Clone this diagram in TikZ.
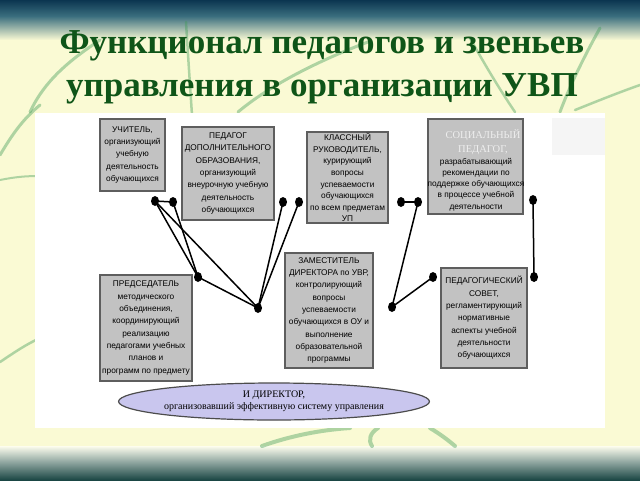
\documentclass[tikz,border=0pt]{standalone}
\usepackage{fontspec}
\setmainfont{Liberation Serif}
\newfontfamily\boxfont{Liberation Sans}
\newfontfamily\headserif{Liberation Serif}
\usetikzlibrary{shapes.geometric}
\definecolor{bg}{HTML}{FAFAD4}
\definecolor{topdark}{HTML}{0B3550}
\definecolor{topmid}{HTML}{3A6E7E}
\definecolor{botmid}{HTML}{8FA6A0}
\definecolor{botdark}{HTML}{1A4644}
\definecolor{leaf}{HTML}{3E9A55}
\definecolor{titlegreen}{HTML}{0F5518}
\definecolor{boxfill}{HTML}{C2C2C2}
\definecolor{boxedge}{HTML}{5E5E5E}
\definecolor{ellfill}{HTML}{C9C6EE}
\definecolor{headwhite}{HTML}{EEEEEE}
\begin{document}
\begin{tikzpicture}[x=1pt,y=-1pt,
  box/.style={draw=boxedge,fill=boxfill,line width=1.3pt,inner sep=0pt,align=center,
    font=\boxfont\fontsize{8.3}{12.3}\selectfont,text=black},
  dotnode/.style={ellipse,fill=black,inner sep=0pt,minimum width=8pt,minimum height=10pt},
  link/.style={line width=1.5pt,black},
  leafstroke/.style={leaf,opacity=0.4,line width=3pt,line cap=round},
  titletext/.style={font=\bfseries\fontsize{35}{40}\selectfont,text=titlegreen,anchor=base}]
\useasboundingbox (0,0) rectangle (640,480);
% background
\fill[bg] (0,0) rectangle (640,480);
\shade[top color=topdark,bottom color=topmid] (0,0) rectangle (640,16);
\shade[top color=topmid,bottom color=bg] (0,16) rectangle (640,40);
\shade[top color=bg!40!white,bottom color=botmid] (0,446) rectangle (640,462);
\shade[top color=botmid,bottom color=botdark] (0,462) rectangle (640,480);
% leaves
\draw[leafstroke] (0,155) .. controls (12,135) and (22,120) .. (40,105);
\draw[leafstroke,line width=2pt] (0,180) .. controls (15,177) and (25,176) .. (40,176);
\draw[leafstroke,line width=2.5pt] (0,362) .. controls (15,352) and (25,345) .. (40,338);
\draw[leafstroke] (30,112) .. controls (45,80) and (70,60) .. (100,40);
\draw[leafstroke,line width=2.5pt] (186,22) .. controls (188,55) and (190,85) .. (192,115);
\draw[leafstroke] (238,112) .. controls (270,85) and (320,60) .. (368,42);
\draw[leafstroke,line width=2.5pt] (470,38) .. controls (485,65) and (500,90) .. (515,112);
\draw[leafstroke] (600,28) .. controls (585,55) and (570,85) .. (560,112);
\draw[leafstroke,line width=2.5pt] (575,110) .. controls (600,100) and (620,92) .. (640,85);
\draw[leafstroke,line width=4pt] (262,446) .. controls (290,436) and (320,430) .. (350,428);
\draw[leafstroke,line width=4pt] (372,446) .. controls (368,440) and (370,433) .. (378,428);
\draw[leafstroke,line width=4pt] (430,428) .. controls (440,434) and (448,440) .. (455,446);
% white panel
\fill[white] (35,113) rectangle (605,428);
\fill[black!4] (552,118) rectangle (605,155);
% title
\node[titletext] (t1) at (322,53) {Функционал педагогов и звеньев};
\node[titletext] (t2) at (322,96) {управления в организации УВП};
% boxes
\node[box,minimum width=65pt,minimum height=72pt] (b1) at (132.5,155)
  {УЧИТЕЛЬ,\\организующий\\учебную\\деятельность\\обучающихся};
\node[box,minimum width=92pt,minimum height=93pt] (b2) at (228,173.5)
  {ПЕДАГОГ\\ДОПОЛНИТЕЛЬНОГО\\ОБРАЗОВАНИЯ,\\организующий\\внеурочную учебную\\деятельность\\обучающихся};
\node[box,minimum width=81pt,minimum height=91pt,font=\boxfont\fontsize{8.3}{11.6}\selectfont] (b3) at (347.5,177.5)
  {КЛАССНЫЙ\\РУКОВОДИТЕЛЬ,\\курирующий\\вопросы\\успеваемости\\обучающихся\\по всем предметам\\УП};
\node[box,minimum width=95pt,minimum height=95pt] (b4) at (475.5,166.5) {};
\node[align=center,inner sep=0pt,font=\headserif\fontsize{10.5}{14}\selectfont,text=headwhite,anchor=north] (b4h) at (483,129)
  {СОЦИАЛЬНЫЙ\\ПЕДАГОГ,};
\node[align=center,inner sep=0pt,font=\boxfont\fontsize{8.3}{11.2}\selectfont,anchor=north] (b4t) at (476,158)
  {разрабатывающий\\рекомендации по\\поддержке обучающихся\\в процессе учебной\\деятельности};
\node[box,minimum width=92pt,minimum height=106pt] (b5) at (146,328)
  {ПРЕДСЕДАТЕЛЬ\\методического\\объединения,\\координирующий\\реализацию\\педагогами учебных\\планов и\\программ по предмету};
\node[box,minimum width=88pt,minimum height=115pt] (b6) at (329,310.5)
  {ЗАМЕСТИТЕЛЬ\\ДИРЕКТОРА по УВР,\\контролирующий\\вопросы\\успеваемости\\обучающихся в ОУ и\\выполнение\\образовательной\\программы};
\node[box,minimum width=86pt,minimum height=100pt] (b7) at (484,318)
  {ПЕДАГОГИЧЕСКИЙ\\СОВЕТ,\\регламентирующий\\нормативные\\аспекты учебной\\деятельности\\обучающихся};
% ellipse
\node[ellipse,draw=black!70,line width=1.2pt,fill=ellfill,minimum width=268pt,minimum height=37pt,inner sep=0pt,
  align=center,font=\fontsize{10}{12.5}\selectfont] (dir) at (274,401.5)
  {И ДИРЕКТОР,\\организовавший эффективную систему управления};
% dots
\node[dotnode] (A) at (155,201) {};
\node[dotnode] (B) at (173,202) {};
\node[dotnode] (C) at (283,202) {};
\node[dotnode] (D) at (299,202) {};
\node[dotnode] (E) at (198,277) {};
\node[dotnode] (F) at (258,308) {};
\node[dotnode] (G) at (401,202) {};
\node[dotnode] (H) at (418,202) {};
\node[dotnode] (I) at (392,307) {};
\node[dotnode] (J) at (433,277) {};
\node[dotnode] (K) at (533,200) {};
\node[dotnode] (L) at (534,277) {};
% connectors
\draw[link] (A.center) -- (B.center);
\draw[link] (A.center) -- (E.center);
\draw[link] (B.center) -- (E.center);
\draw[link] (A.center) -- (F.center);
\draw[link] (E.center) -- (F.center);
\draw[link] (C.center) -- (F.center);
\draw[link] (D.center) -- (F.center);
\draw[link] (G.center) -- (H.center);
\draw[link] (H.center) -- (I.center);
\draw[link] (I.center) -- (J.center);
\draw[link] (K.center) -- (L.center);
\end{tikzpicture}
\end{document}
